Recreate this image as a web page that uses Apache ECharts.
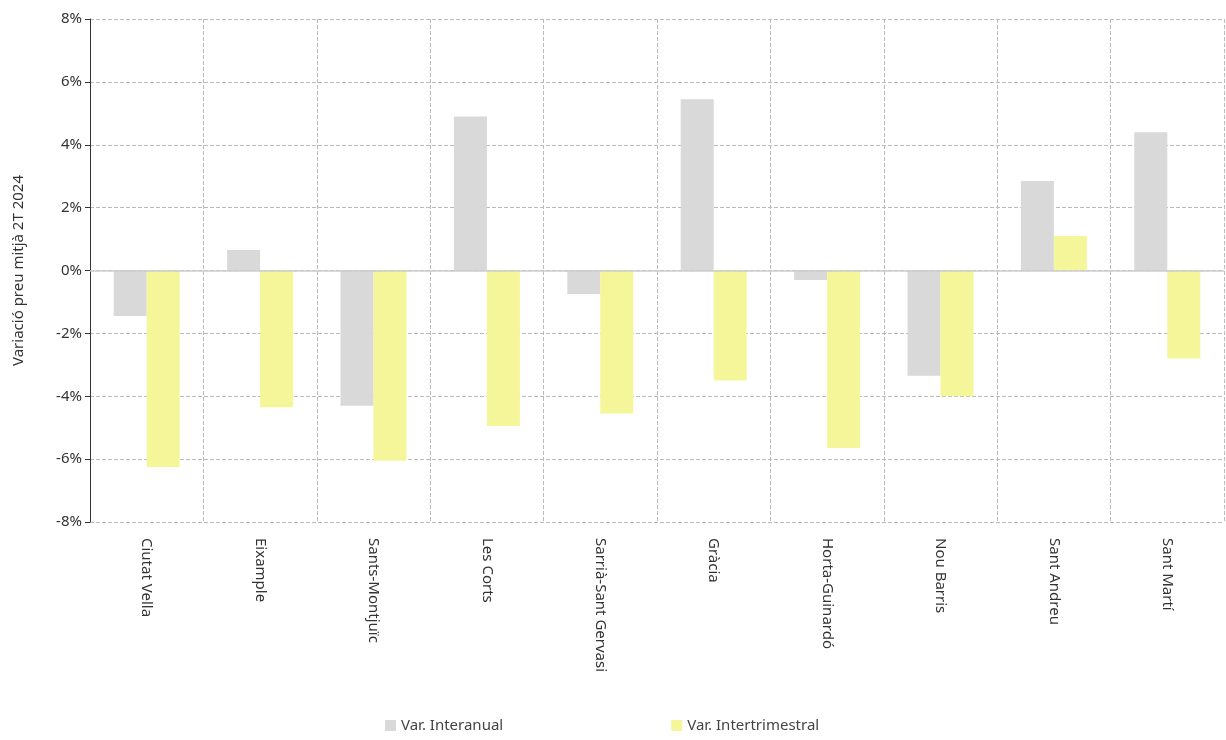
<!DOCTYPE html><html><head><meta charset="utf-8">
<script src="https://cdn.jsdelivr.net/npm/echarts@6/dist/echarts.min.js"></script>
<style>html,body{margin:0;padding:0;background:#fff}#c{width:1226px;height:740px}</style></head><body><div id="c"></div>
<script>
const categories=["Ciutat Vella","Eixample","Sants-Montjuïc","Les Corts","Sarrià-Sant Gervasi","Gràcia","Horta-Guinardó","Nou Barris","Sant Andreu","Sant Martí"];
const interanual=[-1.45,0.65,-4.3,4.9,-0.75,5.45,-0.3,-3.35,2.85,4.4];
const intertrimestral=[-6.25,-4.35,-6.05,-4.95,-4.55,-3.5,-5.65,-4.0,1.1,-2.8];
const font="Noto Sans";
const ch=echarts.init(document.getElementById('c'));
ch.setOption({
 textStyle:{fontFamily:font},
 animation:false,
 grid:{left:90,right:2,top:19,bottom:218},
 legend:{bottom:2,left:380,itemGap:168,itemWidth:11,itemHeight:11,icon:'rect',textStyle:{fontFamily:font,fontSize:15,color:'#444'},data:['Var. Interanual','Var. Intertrimestral']},
 xAxis:{type:'category',data:categories,position:'bottom',
  axisLine:{show:false},axisTick:{show:false},
  axisLabel:{rotate:-90,fontSize:15,color:'#333',margin:16,interval:0},
  splitLine:{show:true,interval:0,lineStyle:{type:'dashed',color:'#bbb'}}},
 yAxis:{type:'value',min:-8,max:8,interval:2,name:'Variació preu mitjà 2T 2024',nameLocation:'middle',nameGap:64,nameTextStyle:{fontSize:15,color:'#333'},
  axisLine:{show:true,lineStyle:{color:'#333'}},axisTick:{show:true,length:5,lineStyle:{color:'#333'}},
  axisLabel:{formatter:v=>v+'%',fontSize:15,color:'#333'},
  splitLine:{lineStyle:{type:'dashed',color:'#bbb'}}},
 series:[
  {name:'Var. Interanual',type:'bar',data:interanual,itemStyle:{color:'#d9d9d9'},barWidth:33,barGap:'0%',
   markLine:{symbol:'none',silent:true,label:{show:false},lineStyle:{color:'#ccc',type:'solid',width:1.5},data:[{yAxis:0}]}},
  {name:'Var. Intertrimestral',type:'bar',data:intertrimestral,itemStyle:{color:'#f5f59a'},barWidth:33}
 ]
});
</script></body></html>
